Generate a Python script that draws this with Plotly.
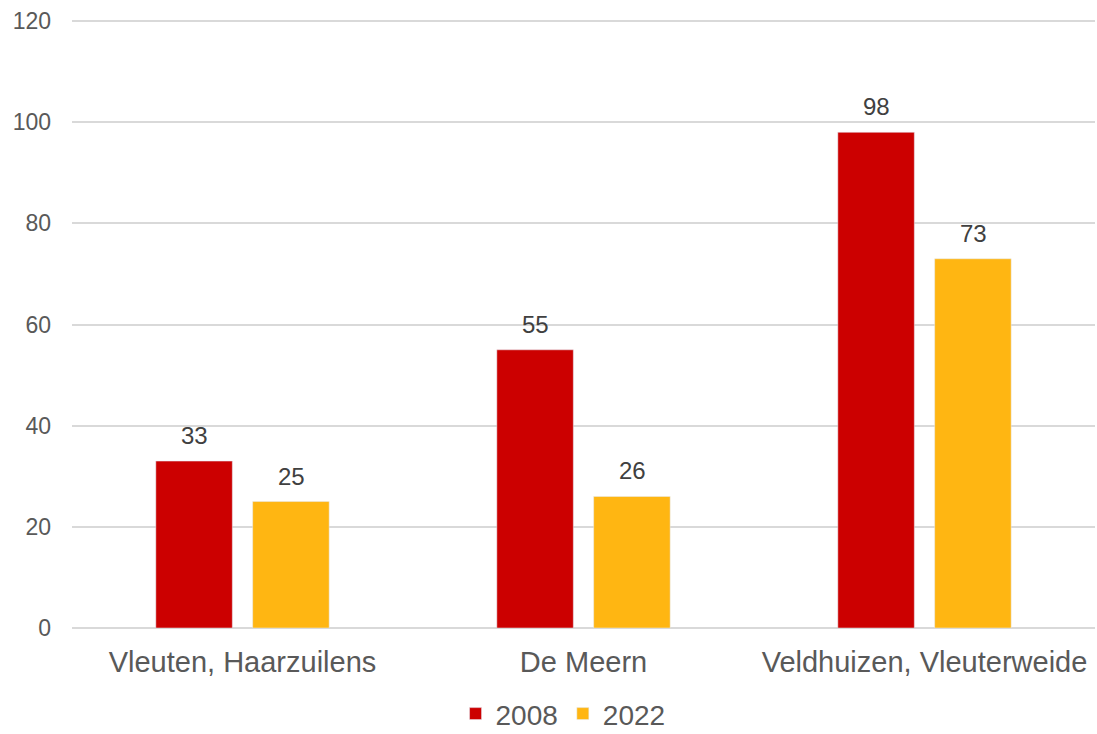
import plotly.graph_objects as go

wijken = ['Vleuten, Haarzuilens', 'De Meern', 'Veldhuizen, Vleuterweide']
jaren = ['2008', '2022']
waarden_2008 = [33, 55, 98]
waarden_2022 = [25, 26, 73]
kleuren = ['#CC0000', '#FFB612']

fig = go.Figure()
for jaar, waarden, kleur in zip(jaren, [waarden_2008, waarden_2022], kleuren):
    fig.add_trace(go.Bar(x=wijken, y=waarden, name=jaar, marker_color=kleur))

# datalabels boven de balken
for verschuiving, waarden in zip([-48.5, 48.5], [waarden_2008, waarden_2022]):
    for wijk, w in zip(wijken, waarden):
        fig.add_annotation(x=wijk, y=w, text=str(w), showarrow=False,
                           xshift=verschuiving, yshift=10, yanchor='bottom',
                           font=dict(size=24, color='#404040'))

fig.update_layout(
    width=1097, height=734,
    margin=dict(l=72, r=2, t=19, b=106, autoexpand=False),
    plot_bgcolor='white', paper_bgcolor='white',
    font=dict(family='Liberation Sans, Arial', color='#595959'),
    barmode='group', bargap=0.432, bargroupgap=0.21,
    legend=dict(orientation='h', x=0.48, xanchor='center', y=-0.1, yanchor='top',
                font=dict(size=28, color='#595959'), itemwidth=30),
    xaxis=dict(tickfont=dict(size=29, color='#595959'), showline=False, ticks='',
               ticklabelstandoff=14, automargin=False),
    yaxis=dict(range=[0, 120.4], dtick=20, gridcolor='#D9D9D9', gridwidth=2,
               tickfont=dict(size=23, color='#595959'), zeroline=True, automargin=False,
               zerolinecolor='#D9D9D9', zerolinewidth=2, ticks='', ticklabelstandoff=20),
)

fig.write_html('out.html', config={'displayModeBar': False},
               post_script="document.body.style.margin='0';")
